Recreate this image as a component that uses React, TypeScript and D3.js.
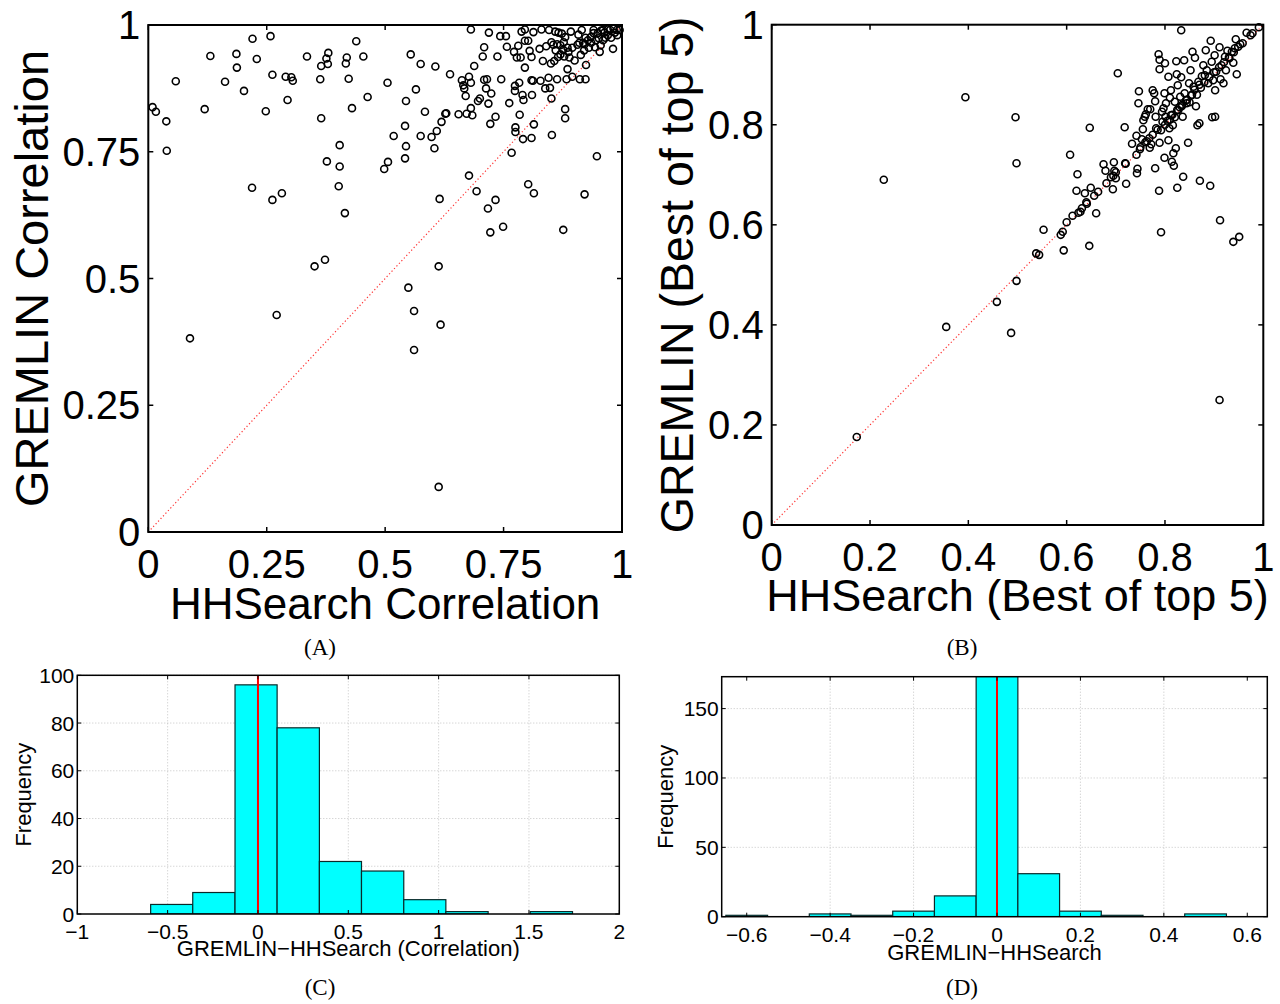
import React from 'react';
import * as d3 from 'd3';

const SANS = '"Liberation Sans", Arial, Helvetica, sans-serif';
const SERIF = '"Liberation Serif", "Times New Roman", serif';

// ---------- Panel A: correlation scatter ----------
const hhsearchCorr = [
  0.009, 0.016, 0.038, 0.039, 0.058, 0.088, 0.119, 0.131, 0.162, 0.186, 0.187, 0.202, 0.220, 0.229, 0.219, 0.248,
  0.258, 0.262, 0.262, 0.271, 0.282, 0.290, 0.294, 0.302, 0.305, 0.335, 0.351, 0.363, 0.365, 0.365, 0.373, 0.377,
  0.376, 0.380, 0.379, 0.404, 0.404, 0.402, 0.415, 0.417, 0.419, 0.423, 0.430, 0.439, 0.454, 0.463, 0.498, 0.505,
  0.506, 0.518, 0.542, 0.542, 0.544, 0.544, 0.549, 0.554, 0.561, 0.561, 0.565, 0.575, 0.575, 0.584, 0.598, 0.604,
  0.606, 0.609, 0.613, 0.613, 0.615, 0.617, 0.619, 0.627, 0.629, 0.637, 0.655, 0.662, 0.665, 0.667, 0.670, 0.672,
  0.677, 0.677, 0.681, 0.681, 0.681, 0.684, 0.688, 0.693, 0.696, 0.700, 0.706, 0.709, 0.709, 0.715, 0.713, 0.717,
  0.718, 0.719, 0.722, 0.722, 0.724, 0.733, 0.733, 0.737, 0.743, 0.745, 0.749, 0.755, 0.757, 0.762, 0.767, 0.772,
  0.774, 0.774, 0.775, 0.775, 0.778, 0.781, 0.783, 0.784, 0.786, 0.788, 0.790, 0.791, 0.792, 0.795, 0.795, 0.795,
  0.802, 0.802, 0.805, 0.809, 0.809, 0.809, 0.810, 0.812, 0.813, 0.814, 0.814, 0.826, 0.828, 0.830, 0.833, 0.838,
  0.840, 0.845, 0.846, 0.848, 0.850, 0.851, 0.851, 0.852, 0.855, 0.857, 0.859, 0.863, 0.863, 0.865, 0.866, 0.870,
  0.873, 0.876, 0.876, 0.877, 0.878, 0.880, 0.880, 0.880, 0.883, 0.885, 0.887, 0.889, 0.892, 0.895, 0.906, 0.908,
  0.911, 0.913, 0.915, 0.918, 0.921, 0.921, 0.923, 0.923, 0.924, 0.928, 0.934, 0.940, 0.943, 0.947, 0.949, 0.951,
  0.953, 0.956, 0.960, 0.963, 0.970, 0.977, 0.981, 0.982, 0.989, 0.995,
  0.935, 0.945, 0.965, 0.970, 0.955, 0.985, 0.990, 0.930, 0.920, 0.900, 0.885, 0.870, 0.860, 0.895, 0.910, 0.975,
  0.960, 0.940,
];
const gremlinCorr = [
  0.838, 0.829, 0.810, 0.752, 0.889, 0.382, 0.834, 0.939, 0.888, 0.943, 0.916, 0.870, 0.973, 0.933, 0.679, 0.830,
  0.978, 0.902, 0.655, 0.428, 0.668, 0.898, 0.852, 0.897, 0.890, 0.938, 0.524, 0.893, 0.919, 0.816, 0.537, 0.731,
  0.934, 0.945, 0.923, 0.763, 0.721, 0.682, 0.629, 0.924, 0.936, 0.894, 0.836, 0.968, 0.938, 0.858, 0.716, 0.886,
  0.730, 0.781, 0.801, 0.737, 0.850, 0.761, 0.482, 0.942, 0.436, 0.359, 0.873, 0.923, 0.781, 0.829, 0.779, 0.757,
  0.918, 0.791, 0.524, 0.089, 0.657, 0.409, 0.809, 0.825, 0.826, 0.903, 0.824, 0.891, 0.881, 0.875, 0.860, 0.825,
  0.898, 0.703, 0.886, 0.991, 0.836, 0.822, 0.919, 0.672, 0.850, 0.855, 0.938, 0.956, 0.892, 0.893, 0.875, 0.638,
  0.845, 0.985, 0.805, 0.591, 0.865, 0.819, 0.655, 0.938, 0.978, 0.893, 0.602, 0.978, 0.957, 0.846, 0.748, 0.947,
  0.870, 0.880, 0.798, 0.789, 0.936, 0.959, 0.886, 0.823, 0.936, 0.987, 0.862, 0.775, 0.852, 0.916, 0.969, 0.991,
  0.969, 0.686, 0.949, 0.937, 0.891, 0.777, 0.862, 0.890, 0.986, 0.804, 0.668, 0.953, 0.890, 0.991, 0.929, 0.875,
  0.958, 0.896, 0.990, 0.876, 0.924, 0.966, 0.855, 0.783, 0.961, 0.929, 0.987, 0.893, 0.962, 0.937, 0.985, 0.942,
  0.983, 0.596, 0.951, 0.966, 0.938, 0.976, 0.834, 0.816, 0.893, 0.913, 0.947, 0.936, 0.987, 0.898, 0.961, 0.981,
  0.893, 0.941, 0.990, 0.965, 0.666, 0.962, 0.975, 0.893, 0.921, 0.970, 0.976, 0.984, 0.956, 0.741, 0.984, 0.974,
  0.947, 0.989, 0.970, 0.985, 0.991, 0.975, 0.953, 0.993, 0.990, 0.990,
  0.965, 0.970, 0.975, 0.980, 0.960, 0.985, 0.980, 0.955, 0.950, 0.930, 0.955, 0.960, 0.950, 0.955, 0.965, 0.990,
  0.990, 0.990,
];

// ---------- Panel B: best of top 5 scatter ----------
const hhsearchBest5 = [
  0.173, 0.228, 0.355, 0.394, 0.458, 0.487, 0.496, 0.498, 0.498, 0.538, 0.544, 0.553, 0.588, 0.592, 0.594, 0.607,
  0.612, 0.620, 0.622, 0.624, 0.628, 0.631, 0.637, 0.641, 0.646, 0.647, 0.649, 0.656, 0.660, 0.664, 0.675, 0.679,
  0.681, 0.694, 0.695, 0.696, 0.697, 0.700, 0.704, 0.718, 0.719, 0.721, 0.720, 0.733, 0.742, 0.742, 0.743, 0.744,
  0.746, 0.747, 0.749, 0.753, 0.755, 0.756, 0.759, 0.761, 0.763, 0.765, 0.768, 0.769, 0.770, 0.772, 0.775, 0.778,
  0.780, 0.780, 0.781, 0.782, 0.787, 0.788, 0.789, 0.789, 0.792, 0.789, 0.792, 0.794, 0.795, 0.797, 0.799, 0.800,
  0.799, 0.801, 0.802, 0.805, 0.807, 0.807, 0.809, 0.810, 0.812, 0.812, 0.814, 0.816, 0.817, 0.818, 0.820, 0.822,
  0.823, 0.824, 0.825, 0.826, 0.827, 0.831, 0.833, 0.833, 0.834, 0.836, 0.837, 0.839, 0.840, 0.843, 0.844, 0.847,
  0.849, 0.852, 0.854, 0.856, 0.858, 0.861, 0.863, 0.866, 0.868, 0.870, 0.871, 0.873, 0.875, 0.878, 0.881, 0.883,
  0.885, 0.888, 0.892, 0.893, 0.895, 0.896, 0.898, 0.901, 0.902, 0.902, 0.904, 0.911, 0.911, 0.912, 0.913, 0.915,
  0.919, 0.922, 0.924, 0.927, 0.931, 0.936, 0.939, 0.939, 0.942, 0.944, 0.946, 0.949, 0.951, 0.953, 0.958, 0.966,
  0.974, 0.978, 0.991,
  0.800, 0.810, 0.815, 0.825, 0.835, 0.845, 0.855, 0.860, 0.870, 0.880, 0.890, 0.900, 0.910, 0.920, 0.930, 0.940,
  0.775, 0.785, 0.760, 0.750, 0.700, 0.690, 0.640, 0.600, 0.820, 0.830, 0.850, 0.865,
];
const gremlinBest5 = [
  0.176, 0.690, 0.396, 0.855, 0.446, 0.384, 0.815, 0.723, 0.488, 0.543, 0.540, 0.590, 0.580, 0.586, 0.549, 0.740,
  0.618, 0.668, 0.701, 0.624, 0.626, 0.633, 0.663, 0.642, 0.558, 0.794, 0.674, 0.658, 0.623, 0.666, 0.721, 0.708,
  0.683, 0.671, 0.698, 0.725, 0.708, 0.693, 0.903, 0.795, 0.723, 0.682, 0.722, 0.762, 0.778, 0.740, 0.703, 0.712,
  0.843, 0.867, 0.751, 0.771, 0.791, 0.809, 0.816, 0.821, 0.767, 0.831, 0.773, 0.754, 0.831, 0.761, 0.869, 0.863,
  0.713, 0.847, 0.816, 0.793, 0.941, 0.668, 0.930, 0.911, 0.585, 0.764, 0.789, 0.826, 0.806, 0.833, 0.734, 0.923,
  0.863, 0.816, 0.843, 0.808, 0.769, 0.896, 0.793, 0.854, 0.869, 0.819, 0.726, 0.799, 0.743, 0.718, 0.846, 0.753,
  0.927, 0.901, 0.674, 0.879, 0.829, 0.856, 0.989, 0.895, 0.837, 0.816, 0.696, 0.929, 0.863, 0.849, 0.843, 0.764,
  0.883, 0.909, 0.859, 0.946, 0.876, 0.934, 0.837, 0.799, 0.886, 0.803, 0.688, 0.874, 0.897, 0.919, 0.899, 0.949,
  0.909, 0.883, 0.678, 0.968, 0.926, 0.815, 0.889, 0.939, 0.869, 0.816, 0.906, 0.250, 0.955, 0.609, 0.891, 0.919,
  0.883, 0.936, 0.909, 0.948, 0.933, 0.946, 0.566, 0.924, 0.953, 0.971, 0.901, 0.956, 0.576, 0.961, 0.963, 0.984,
  0.979, 0.983, 0.995,
  0.800, 0.810, 0.820, 0.830, 0.840, 0.850, 0.860, 0.870, 0.880, 0.885, 0.895, 0.905, 0.915, 0.925, 0.935, 0.945,
  0.780, 0.790, 0.765, 0.755, 0.705, 0.695, 0.645, 0.605, 0.815, 0.835, 0.845, 0.860,
];

// ---------- Panel C: histogram of correlation differences ----------
const corrDiffEdges = [-0.594, -0.361, -0.127, 0.106, 0.340, 0.573, 0.807, 1.040, 1.274, 1.507, 1.741];
const corrDiffCounts = [4, 9, 96, 78, 22, 18, 6, 1, 0, 1];

// ---------- Panel D: histogram of best-of-top-5 differences ----------
const best5DiffEdges = [-0.65, -0.55, -0.45, -0.35, -0.25, -0.15, -0.05, 0.05, 0.15, 0.25, 0.35, 0.45, 0.55, 0.65];
const best5DiffCounts = [1, 0, 2, 1, 4, 15, 174, 31, 4, 1, 0, 2, 0];

// ---------- ticks ----------
const ticksA = [0, 0.25, 0.5, 0.75, 1];
const tickLabelsA = ['0', '0.25', '0.5', '0.75', '1'];
const ticksB = [0, 0.2, 0.4, 0.6, 0.8, 1];
const tickLabelsB = ['0', '0.2', '0.4', '0.6', '0.8', '1'];
const ticksCx = [-1, -0.5, 0, 0.5, 1, 1.5, 2];
const tickLabelsCx = ['\u22121', '\u22120.5', '0', '0.5', '1', '1.5', '2'];
const ticksCy = [0, 20, 40, 60, 80, 100];
const ticksDx = [-0.6, -0.4, -0.2, 0, 0.2, 0.4, 0.6];
const tickLabelsDx = ['\u22120.6', '\u22120.4', '\u22120.2', '0', '0.2', '0.4', '0.6'];
const ticksDy = [0, 50, 100, 150];

type ScatterProps = {
  xs: number[]; ys: number[];
  left: number; right: number; top: number; bottom: number;
  ticks: number[]; tickLabels: string[];
  xTitle: string; yTitle: string;
  xTitleY: number; yTitleX: number; xTitleSize: number; yTitleSize: number;
  caption: string; captionX: number;
};

function Scatter(p: ScatterProps) {
  const x = d3.scaleLinear().domain([0, 1]).range([p.left, p.right]);
  const y = d3.scaleLinear().domain([0, 1]).range([p.bottom, p.top]);
  const fs = 40;
  const tl = 5;
  return (
    <g>
      <line x1={x(0)} y1={y(0)} x2={x(1)} y2={y(1)} stroke="#ff3030" strokeWidth={1.2} strokeDasharray="1.2,2.4" />
      {p.xs.map((v, i) => (
        <circle key={i} cx={x(v)} cy={y(p.ys[i])} r={3.5} fill="none" stroke="#000" strokeWidth={1.6} />
      ))}
      <rect x={p.left} y={p.top} width={p.right - p.left} height={p.bottom - p.top} fill="none" stroke="#000" strokeWidth={2} />
      {p.ticks.map((t, i) => (
        <g key={i}>
          <line x1={x(t)} x2={x(t)} y1={p.bottom} y2={p.bottom - tl} stroke="#000" strokeWidth={1.5} />
          <line x1={x(t)} x2={x(t)} y1={p.top} y2={p.top + tl} stroke="#000" strokeWidth={1.5} />
          <line y1={y(t)} y2={y(t)} x1={p.left} x2={p.left + tl} stroke="#000" strokeWidth={1.5} />
          <line y1={y(t)} y2={y(t)} x1={p.right} x2={p.right - tl} stroke="#000" strokeWidth={1.5} />
          <text x={x(t)} y={p.bottom + 46} fontSize={fs} fontFamily={SANS} textAnchor="middle">{p.tickLabels[i]}</text>
          <text x={p.left - 8} y={y(t) + 14} fontSize={fs} fontFamily={SANS} textAnchor="end">{p.tickLabels[i]}</text>
        </g>
      ))}
      <text x={(p.left + p.right) / 2} y={p.xTitleY} fontSize={p.xTitleSize} fontFamily={SANS} textAnchor="middle">{p.xTitle}</text>
      <text transform={`translate(${p.yTitleX},${(p.top + p.bottom) / 2}) rotate(-90)`} fontSize={p.yTitleSize} fontFamily={SANS} textAnchor="middle">{p.yTitle}</text>
      <text x={p.captionX} y={655} fontSize={23} fontFamily={SERIF} textAnchor="middle">{p.caption}</text>
    </g>
  );
}

type HistProps = {
  edges: number[]; counts: number[];
  xDomain: [number, number]; yDomain: [number, number];
  left: number; right: number; top: number; bottom: number;
  xTicks: number[]; xTickLabels: string[]; yTicks: number[];
  xTitle: string; xTitleY: number; yTitleX: number;
  caption: string; captionX: number; clipId: string;
};

function Hist(p: HistProps) {
  const x = d3.scaleLinear().domain(p.xDomain).range([p.left, p.right]);
  const y = d3.scaleLinear().domain(p.yDomain).range([p.bottom, p.top]);
  const fs = 21;
  const tl = 4;
  return (
    <g>
      <defs>
        <clipPath id={p.clipId}>
          <rect x={p.left} y={p.top} width={p.right - p.left} height={p.bottom - p.top} />
        </clipPath>
      </defs>
      {p.xTicks.slice(1, -1).map((t, i) => (
        <line key={'gx' + i} x1={x(t)} x2={x(t)} y1={p.top} y2={p.bottom} stroke="#b8b8b8" strokeWidth={0.8} strokeDasharray="1,2" />
      ))}
      {p.yTicks.slice(1).map((t, i) => (
        <line key={'gy' + i} y1={y(t)} y2={y(t)} x1={p.left} x2={p.right} stroke="#b8b8b8" strokeWidth={0.8} strokeDasharray="1,2" />
      ))}
      <g clipPath={`url(#${p.clipId})`}>
        {p.counts.map((c, i) => (
          <rect key={i} x={x(p.edges[i])} y={y(c)} width={x(p.edges[i + 1]) - x(p.edges[i])} height={y(0) - y(c)}
            fill="#00ffff" stroke="#0a2a2a" strokeWidth={1.2} />
        ))}
        <line x1={x(0)} x2={x(0)} y1={p.top} y2={p.bottom} stroke="#ff0000" strokeWidth={2} />
      </g>
      <rect x={p.left} y={p.top} width={p.right - p.left} height={p.bottom - p.top} fill="none" stroke="#000" strokeWidth={1.5} />
      {p.xTicks.map((t, i) => (
        <g key={'tx' + i}>
          <line x1={x(t)} x2={x(t)} y1={p.bottom} y2={p.bottom - tl} stroke="#000" strokeWidth={1} />
          <line x1={x(t)} x2={x(t)} y1={p.top} y2={p.top + tl} stroke="#000" strokeWidth={1} />
          <text x={x(t)} y={p.bottom + 25} fontSize={fs} fontFamily={SANS} textAnchor="middle">{p.xTickLabels[i]}</text>
        </g>
      ))}
      {p.yTicks.map((t, i) => (
        <g key={'ty' + i}>
          <line y1={y(t)} y2={y(t)} x1={p.left} x2={p.left + tl} stroke="#000" strokeWidth={1} />
          <line y1={y(t)} y2={y(t)} x1={p.right} x2={p.right - tl} stroke="#000" strokeWidth={1} />
          <text x={p.left - 3} y={y(t) + 7.5} fontSize={fs} fontFamily={SANS} textAnchor="end">{String(t)}</text>
        </g>
      ))}
      <text x={(p.left + p.right) / 2} y={p.xTitleY} fontSize={22} fontFamily={SANS} textAnchor="middle">{p.xTitle}</text>
      <text transform={`translate(${p.yTitleX},${(p.top + p.bottom) / 2}) rotate(-90)`} fontSize={22} fontFamily={SANS} textAnchor="middle">Frequency</text>
      <text x={p.captionX} y={995} fontSize={23} fontFamily={SERIF} textAnchor="middle">{p.caption}</text>
    </g>
  );
}

export default function App() {
  return (
    <div style={{ position: 'absolute', left: 0, top: 0 }}>
      <svg width={1280} height={1004} style={{ display: 'block', background: '#fff' }}>
        <Scatter xs={hhsearchCorr} ys={gremlinCorr} left={148.3} right={622} top={25} bottom={532}
          ticks={ticksA} tickLabels={tickLabelsA} xTitle="HHSearch Correlation" yTitle="GREMLIN Correlation"
          xTitleY={619} yTitleX={48} xTitleSize={44} yTitleSize={47} caption="(A)" captionX={320} />
        <Scatter xs={hhsearchBest5} ys={gremlinBest5} left={771.7} right={1263.3} top={24.7} bottom={525}
          ticks={ticksB} tickLabels={tickLabelsB} xTitle="HHSearch (Best of top 5)" yTitle="GREMLIN (Best of top 5)"
          xTitleY={611} yTitleX={693} xTitleSize={45} yTitleSize={46.5} caption="(B)" captionX={962} />
        <Hist edges={corrDiffEdges} counts={corrDiffCounts} xDomain={[-1, 2]} yDomain={[0, 100]}
          left={77.3} right={619.3} top={675.3} bottom={914} xTicks={ticksCx} xTickLabels={tickLabelsCx} yTicks={ticksCy}
          xTitle={'GREMLIN\u2212HHSearch (Correlation)'} xTitleY={956} yTitleX={31} caption="(C)" captionX={320} clipId="clipC" />
        <Hist edges={best5DiffEdges} counts={best5DiffCounts} xDomain={[-0.66, 0.648]} yDomain={[0, 173]}
          left={721.7} right={1267.3} top={676.7} bottom={916.7} xTicks={ticksDx} xTickLabels={tickLabelsDx} yTicks={ticksDy}
          xTitle={'GREMLIN\u2212HHSearch'} xTitleY={960} yTitleX={673} caption="(D)" captionX={962} clipId="clipD" />
      </svg>
    </div>
  );
}
